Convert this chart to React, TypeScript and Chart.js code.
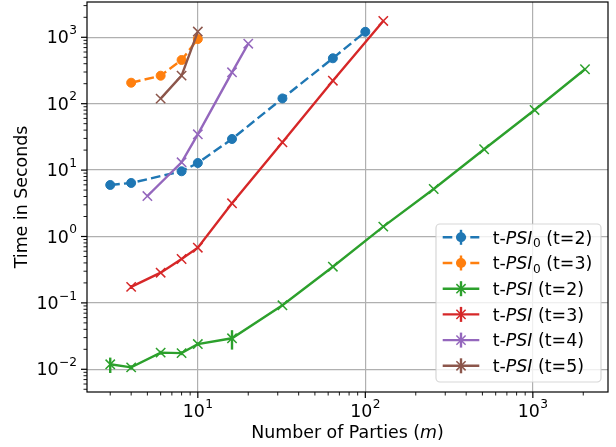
import React, { useEffect, useRef } from "react";
import { Chart, registerables } from "chart.js";

Chart.register(...registerables);

// ---- data ----
const blueX = [3, 4, 8, 10, 16, 32, 64, 100];
const blueY = [5.97, 6.4, 9.6, 12.8, 29.4, 120, 483, 1210];
const orangeX = [4, 6, 8, 10];
const orangeY = [207, 264, 455, 940];
const greenX = [3, 4, 6, 8, 10, 16, 32, 64, 128, 256, 512, 1024, 2048];
const greenY = [0.0119, 0.0107, 0.0178, 0.0175, 0.024, 0.0293, 0.092, 0.351, 1.41, 5.19, 20.6, 80.4, 330];
const greenErr = [0.0031, 0.0008, 0.0012, 0.0012, 0.0015, 0.0095, 0, 0, 0, 0, 0, 0, 0];
const redX = [4, 6, 8, 10, 16, 32, 64, 128];
const redY = [0.174, 0.285, 0.458, 0.678, 3.16, 26.2, 222, 1760];
const redErr = [0.012, 0, 0, 0, 0, 0, 0, 0];
const purpleX = [5, 8, 10, 16, 20];
const purpleY = [4.07, 13.1, 34.6, 297, 800];
const brownX = [6, 8, 10];
const brownY = [119, 265, 1220];

const xTickExps = [1, 2, 3];
const yTickExps = [-2, -1, 0, 1, 2, 3];

const xTitle = ["Number of Parties (", "m", ")"];
const yTitle = "Time in Seconds";

const seriesLabels = [
  { pre: "t-", it: "PSI", sub: "0", post: " (t=2)" },
  { pre: "t-", it: "PSI", sub: "0", post: " (t=3)" },
  { pre: "t-", it: "PSI", sub: "", post: " (t=2)" },
  { pre: "t-", it: "PSI", sub: "", post: " (t=3)" },
  { pre: "t-", it: "PSI", sub: "", post: " (t=4)" },
  { pre: "t-", it: "PSI", sub: "", post: " (t=5)" },
];

const COLORS = ["#1f77b4", "#ff7f0e", "#2ca02c", "#d62728", "#9467bd", "#8c564b"];
const DASHED = [true, true, false, false, false, false];
const CIRCLE = [true, true, false, false, false, false];

const FONT = '"DejaVu Sans", sans-serif';
const FS = 17.4;
const LW = 2.4;
const DASH = [9.6, 4.2];

function mk(xs: number[], ys: number[]) {
  return xs.map((x, i) => ({ x, y: ys[i] }));
}

function logTicks(min: number, max: number) {
  const out: { value: number; major: boolean }[] = [];
  for (let e = -4; e <= 5; e++) {
    for (let m = 1; m <= 9; m++) {
      const v = m * Math.pow(10, e);
      if (v >= min && v <= max) out.push({ value: v, major: m === 1 });
    }
  }
  return out;
}

function drawPow(ctx: CanvasRenderingContext2D, exp: number, x: number, baseline: number, align: string) {
  const base = "10";
  const es = exp < 0 ? "\u2212" + Math.abs(exp) : String(exp);
  ctx.font = `${FS}px ${FONT}`;
  const wb = ctx.measureText(base).width;
  ctx.font = `${FS * 0.7}px ${FONT}`;
  const we = ctx.measureText(es).width;
  const total = wb + we + 0.5;
  const left = align === "right" ? x - total : x - total / 2;
  ctx.textAlign = "left";
  ctx.textBaseline = "alphabetic";
  ctx.fillStyle = "#000";
  ctx.font = `${FS}px ${FONT}`;
  ctx.fillText(base, left, baseline);
  ctx.font = `${FS * 0.7}px ${FONT}`;
  ctx.fillText(es, left + wb + 0.5, baseline - 9.5);
}

function drawMarker(ctx: CanvasRenderingContext2D, i: number, x: number, y: number) {
  ctx.strokeStyle = COLORS[i];
  ctx.fillStyle = COLORS[i];
  ctx.setLineDash([]);
  if (CIRCLE[i]) {
    ctx.beginPath();
    ctx.arc(x, y, 5, 0, Math.PI * 2);
    ctx.fill();
  } else {
    const h = 4.6;
    ctx.lineWidth = 1.5;
    ctx.beginPath();
    ctx.moveTo(x - h, y - h);
    ctx.lineTo(x + h, y + h);
    ctx.moveTo(x - h, y + h);
    ctx.lineTo(x + h, y - h);
    ctx.stroke();
  }
}

const errMap: { [k: number]: { xs: number[]; ys: number[]; e: number[] } } = {
  2: { xs: greenX, ys: greenY, e: greenErr },
  3: { xs: redX, ys: redY, e: redErr },
};

const decorPlugin = {
  id: "decor",
  afterDatasetsDraw(chart: any) {
    const ctx: CanvasRenderingContext2D = chart.ctx;
    const xs = chart.scales.x;
    const ys = chart.scales.y;
    ctx.save();
    ctx.beginPath();
    const a = chart.chartArea;
    ctx.rect(a.left, a.top, a.right - a.left, a.bottom - a.top);
    ctx.clip();
    Object.keys(errMap).forEach((k) => {
      const i = Number(k);
      const d = errMap[i];
      ctx.strokeStyle = COLORS[i];
      ctx.lineWidth = LW;
      ctx.setLineDash([]);
      d.xs.forEach((x, j) => {
        if (!d.e[j]) return;
        const px = xs.getPixelForValue(x);
        const y1 = ys.getPixelForValue(d.ys[j] - d.e[j]);
        const y2 = ys.getPixelForValue(d.ys[j] + d.e[j]);
        ctx.beginPath();
        ctx.moveTo(px, y1);
        ctx.lineTo(px, y2);
        ctx.stroke();
      });
    });
    ctx.restore();
  },
  afterDraw(chart: any) {
    const ctx: CanvasRenderingContext2D = chart.ctx;
    const a = chart.chartArea;
    const xs = chart.scales.x;
    const ys = chart.scales.y;
    ctx.save();
    // frame
    ctx.strokeStyle = "#000";
    ctx.lineWidth = 1.2;
    ctx.setLineDash([]);
    ctx.strokeRect(a.left, a.top, a.right - a.left, a.bottom - a.top);
    // ticks
    xs.ticks.forEach((t: any) => {
      const px = xs.getPixelForValue(t.value);
      ctx.lineWidth = t.major ? 1.2 : 0.9;
      ctx.beginPath();
      ctx.moveTo(px, a.bottom);
      ctx.lineTo(px, a.bottom + (t.major ? 6 : 3.5));
      ctx.stroke();
    });
    ys.ticks.forEach((t: any) => {
      const py = ys.getPixelForValue(t.value);
      ctx.lineWidth = t.major ? 1.2 : 0.9;
      ctx.beginPath();
      ctx.moveTo(a.left, py);
      ctx.lineTo(a.left - (t.major ? 6 : 3.5), py);
      ctx.stroke();
    });
    // tick labels
    xTickExps.forEach((e) => {
      const px = xs.getPixelForValue(Math.pow(10, e));
      drawPow(ctx, e, px, 417, "center");
    });
    yTickExps.forEach((e) => {
      const py = ys.getPixelForValue(Math.pow(10, e));
      drawPow(ctx, e, 77, py + 6.2, "right");
    });
    // x title
    ctx.fillStyle = "#000";
    ctx.textBaseline = "alphabetic";
    ctx.textAlign = "left";
    const fonts = [`${FS}px ${FONT}`, `italic ${FS}px ${FONT}`, `${FS}px ${FONT}`];
    let tw = 0;
    const ws = xTitle.map((s, i) => {
      ctx.font = fonts[i];
      const w = ctx.measureText(s).width;
      tw += w;
      return w;
    });
    let cx = (a.left + a.right) / 2 - tw / 2;
    xTitle.forEach((s, i) => {
      ctx.font = fonts[i];
      ctx.fillText(s, cx, 438);
      cx += ws[i];
    });
    // y title
    ctx.save();
    ctx.translate(27, (a.top + a.bottom) / 2);
    ctx.rotate(-Math.PI / 2);
    ctx.textAlign = "center";
    ctx.font = `${FS}px ${FONT}`;
    ctx.fillText(yTitle, 0, 0);
    ctx.restore();
    // legend
    ctx.beginPath();
    (ctx as any).roundRect(436, 224, 165, 158, 4);
    ctx.fillStyle = "rgba(255,255,255,0.8)";
    ctx.fill();
    ctx.strokeStyle = "rgba(204,204,204,0.8)";
    ctx.lineWidth = 1.2;
    ctx.stroke();
    seriesLabels.forEach((lab, i) => {
      const cy = 237.3 + i * 25.7;
      ctx.strokeStyle = COLORS[i];
      ctx.lineWidth = LW;
      ctx.setLineDash(DASHED[i] ? DASH : []);
      ctx.beginPath();
      ctx.moveTo(442.7, cy);
      ctx.lineTo(479.3, cy);
      ctx.stroke();
      ctx.setLineDash([]);
      ctx.beginPath();
      ctx.moveTo(461, cy - 7.5);
      ctx.lineTo(461, cy + 7.5);
      ctx.stroke();
      drawMarker(ctx, i, 461, cy);
      // text
      ctx.fillStyle = "#000";
      ctx.textAlign = "left";
      let tx = 492.7;
      const bl = cy + 6.2;
      ctx.font = `${FS}px ${FONT}`;
      ctx.fillText(lab.pre, tx, bl);
      tx += ctx.measureText(lab.pre).width;
      ctx.font = `italic ${FS}px ${FONT}`;
      ctx.fillText(lab.it, tx, bl);
      tx += ctx.measureText(lab.it).width;
      if (lab.sub) {
        tx += 0.5;
        ctx.font = `${FS * 0.7}px ${FONT}`;
        ctx.fillText(lab.sub, tx, bl + 3.5);
        tx += ctx.measureText(lab.sub).width;
      }
      ctx.font = `${FS}px ${FONT}`;
      ctx.fillText(lab.post, tx, bl);
    });
    ctx.restore();
  },
};

export default function App() {
  const ref = useRef<HTMLCanvasElement | null>(null);
  useEffect(() => {
    if (!ref.current) return;
    const xsArr = [blueX, orangeX, greenX, redX, purpleX, brownX];
    const ysArr = [blueY, orangeY, greenY, redY, purpleY, brownY];
    const datasets = xsArr.map((xs, i) => ({
      label: seriesLabels[i].pre + seriesLabels[i].it + seriesLabels[i].sub + seriesLabels[i].post,
      data: mk(xs, ysArr[i]),
      borderColor: COLORS[i],
      backgroundColor: COLORS[i],
      borderWidth: LW,
      borderDash: DASHED[i] ? DASH : [],
      pointStyle: CIRCLE[i] ? "circle" : "crossRot",
      pointRadius: CIRCLE[i] ? 4.5 : 6.6,
      pointBorderWidth: CIRCLE[i] ? 1 : 1.5,
      pointBackgroundColor: COLORS[i],
      pointBorderColor: COLORS[i],
      showLine: true,
      fill: false,
      tension: 0,
      order: -i,
    }));
    const xMin = 2.18, xMax = 2810, yMin = 0.00455, yMax = 3400;
    const chart = new Chart(ref.current, {
      type: "line",
      data: { datasets: datasets as any },
      options: {
        animation: false,
        responsive: false,
        devicePixelRatio: 1,
        layout: { autoPadding: false, padding: { top: 2, right: 8, left: 0, bottom: 0 } },
        plugins: { legend: { display: false }, tooltip: { enabled: false } },
        scales: {
          x: {
            type: "logarithmic",
            position: "bottom",
            min: xMin,
            max: xMax,
            afterBuildTicks: (s: any) => { s.ticks = logTicks(xMin, xMax); },
            afterFit: (s: any) => { s.height = 55; },
            ticks: { display: false },
            border: { display: false },
            grid: {
              drawTicks: false,
              lineWidth: 1.2,
              color: (c: any) => (c.tick && c.tick.major ? "#b0b0b0" : "rgba(0,0,0,0)"),
            },
          },
          y: {
            type: "logarithmic",
            position: "left",
            min: yMin,
            max: yMax,
            afterBuildTicks: (s: any) => { s.ticks = logTicks(yMin, yMax); },
            afterFit: (s: any) => { s.width = 87; },
            ticks: { display: false },
            border: { display: false },
            grid: {
              drawTicks: false,
              lineWidth: 1.2,
              color: (c: any) => (c.tick && c.tick.major ? "#b0b0b0" : "rgba(0,0,0,0)"),
            },
          },
        },
      },
      plugins: [decorPlugin],
    });
    return () => chart.destroy();
  }, []);
  return (
    <div style={{ position: "fixed", left: 0, top: 0, width: 616, height: 447, background: "#fff" }}>
      <canvas ref={ref} width={616} height={447} style={{ width: 616, height: 447, display: "block" }} />
    </div>
  );
}
